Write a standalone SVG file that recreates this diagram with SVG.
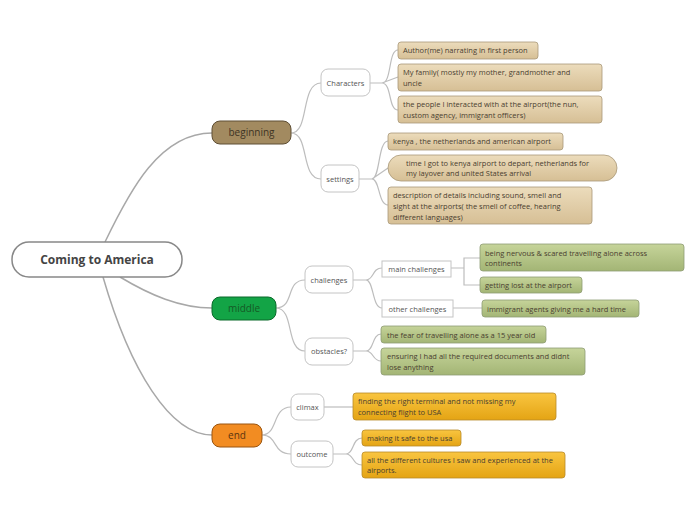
<svg xmlns="http://www.w3.org/2000/svg" width="696" height="520" viewBox="0 0 696 520">
<defs>
<linearGradient id="tan" x1="0" y1="0" x2="0" y2="1"><stop offset="0" stop-color="#ecdcbc"/><stop offset="1" stop-color="#d6bf95"/></linearGradient>
<linearGradient id="grn" x1="0" y1="0" x2="0" y2="1"><stop offset="0" stop-color="#c6d49a"/><stop offset="1" stop-color="#a3b575"/></linearGradient>
<linearGradient id="org" x1="0" y1="0" x2="0" y2="1"><stop offset="0" stop-color="#f9c540"/><stop offset="1" stop-color="#e4a414"/></linearGradient>
</defs>
<style>
text{font-family:"Open Sans","Liberation Sans",sans-serif;font-size:7.5px;fill:#4a4030}
.c path{fill:none;stroke:#bdbdbd;stroke-width:1.2}
.c .m{stroke:#a8a8a8;stroke-width:1.5}
.t{fill:url(#tan);stroke:#a89878;stroke-width:0.8}
.g{fill:url(#grn);stroke:#8e9c74;stroke-width:0.8}
.o{fill:url(#org);stroke:#b88a2a;stroke-width:0.8}
.w{fill:#fff;stroke:#c4c4c4;stroke-width:1}
.s{text-anchor:middle;fill:#555}
</style>
<g class="c">
<path class="m" d="M105,242 C130,190 160,133 212,133"/>
<path class="m" d="M120,277 C150,295 180,308 212,308"/>
<path class="m" d="M103,277 C130,370 170,435 212,435"/>
<path d="M291,133 C310,133 300,83 321,83 M291,133 C310,133 300,179 321,179"/>
<path d="M276,308 C295,308 285,280 305,280 M276,308 C295,308 285,351 305,351"/>
<path d="M262,435 C278,435 272,407 291,407 M262,435 C278,435 272,454 291,454"/>
<path d="M370,83 L382,83 C392,83 388,50 398,50 M382,83 L398,77 M382,83 C392,83 388,110 398,110"/>
<path d="M359,179 L372,179 C380,179 378,141 388,141 M372,179 L388,168 M372,179 C380,179 378,205 388,205"/>
<path d="M353,280 L366,280 C374,280 372,268 382,268 M366,280 C374,280 372,308 382,308"/>
<path d="M451,268 L464,268 L464,258 L480,258 M464,268 L464,285 L480,285 M453,308 L482,308"/>
<path d="M353,351 L366,351 C374,351 372,334 381,334 M366,351 C374,351 372,361 381,361"/>
<path d="M324,407 L353,407"/>
<path d="M333,454 L346,454 C354,454 352,438 362,438 M346,454 C354,454 352,465 362,465"/>
</g>
<g id="root"><rect x="12" y="242" width="170" height="35" rx="17" fill="#fff" stroke="#888" stroke-width="1.5"/><text x="97" y="264" text-anchor="middle" style="font-size:12px;font-weight:bold;fill:#444">Coming to America</text></g>
<g id="beginning"><rect x="212" y="121" width="79" height="23" rx="8" fill="#a28a60" stroke="#5e4e34"/><text x="251.5" y="136" text-anchor="middle" style="font-size:10px;fill:#3e3424">beginning</text></g>
<g id="middle"><rect x="212" y="297" width="64" height="23" rx="8" fill="#13a446" stroke="#0a6a2a"/><text x="244" y="312" text-anchor="middle" style="font-size:10px;fill:#155a25">middle</text></g>
<g id="end"><rect x="212" y="424" width="50" height="23" rx="8" fill="#f28c22" stroke="#9a5510"/><text x="237" y="439" text-anchor="middle" style="font-size:10px;fill:#5a3510">end</text></g>
<g id="characters"><rect class="w" x="321" y="69" width="49" height="27" rx="7"/><text class="s" x="345.5" y="86">Characters</text></g>
<g id="settings"><rect class="w" x="321" y="165" width="38" height="27" rx="7"/><text class="s" x="340" y="182">settings</text></g>
<g id="challenges"><rect class="w" x="305" y="266" width="48" height="27" rx="7"/><text class="s" x="329" y="283">challenges</text></g>
<g id="obstacles"><rect class="w" x="305" y="338" width="48" height="27" rx="7"/><text class="s" x="329" y="354">obstacles?</text></g>
<g id="climax"><rect class="w" x="291" y="394" width="33" height="26" rx="7"/><text class="s" x="307.5" y="410">climax</text></g>
<g id="outcome"><rect class="w" x="291" y="441" width="42" height="26" rx="7"/><text class="s" x="312" y="457">outcome</text></g>
<g id="mainch"><rect class="w" x="382" y="261" width="69" height="16"/><text class="s" x="416.5" y="272">main challenges</text></g>
<g id="otherch"><rect class="w" x="382" y="300" width="71" height="17"/><text class="s" x="417.5" y="312">other challenges</text></g>
<g id="b1"><rect class="t" x="398" y="42" width="140" height="17" rx="3"/><text x="403" y="53">Author(me) narrating in first person</text></g>
<g id="b2"><rect class="t" x="398" y="64" width="204" height="27" rx="3"/><text x="403" y="75">My family( mostly my mother, grandmother and</text><text x="403" y="86">uncle</text></g>
<g id="b3"><rect class="t" x="398" y="96" width="204" height="27" rx="3"/><text x="403" y="107">the people I interacted with at the airport(the nun,</text><text x="403" y="118">custom agency, immigrant officers)</text></g>
<g id="b4"><rect class="t" x="388" y="133" width="175" height="17" rx="3"/><text x="393" y="144">kenya , the netherlands and american airport</text></g>
<g id="b5"><rect class="t" x="388" y="155" width="229" height="26" rx="13"/><text x="406" y="166">time I got to kenya airport to depart, netherlands for</text><text x="406" y="176">my layover and united States arrival</text></g>
<g id="b6"><rect class="t" x="388" y="187" width="204" height="37" rx="3"/><text x="393" y="198">description of details including sound, smell and</text><text x="393" y="209">sight at the airports( the smell of coffee, hearing</text><text x="393" y="220">different languages)</text></g>
<g id="m1"><rect class="g" x="480" y="244" width="204" height="27" rx="3"/><text x="485" y="256">being nervous &amp; scared travelling alone across</text><text x="485" y="266">continents</text></g>
<g id="m2"><rect class="g" x="480" y="277" width="102" height="16" rx="3"/><text x="485" y="288">getting lost at the airport</text></g>
<g id="m3"><rect class="g" x="482" y="300" width="157" height="17" rx="3"/><text x="487" y="312">immigrant agents giving me a hard time</text></g>
<g id="m4"><rect class="g" x="381" y="326" width="165" height="17" rx="3"/><text x="387" y="338">the fear of travelling alone as a 15 year old</text></g>
<g id="m5"><rect class="g" x="381" y="348" width="204" height="27" rx="3"/><text x="387" y="359">ensuring I had all the required documents and didnt</text><text x="387" y="370">lose anything</text></g>
<g id="e1"><rect class="o" x="353" y="393" width="203" height="27" rx="3"/><text x="358" y="404">finding the right terminal and not missing my</text><text x="358" y="415">connecting flight to USA</text></g>
<g id="e2"><rect class="o" x="362" y="430" width="99" height="16" rx="3"/><text x="367" y="441">making it safe to the usa</text></g>
<g id="e3"><rect class="o" x="362" y="452" width="203" height="26" rx="3"/><text x="367" y="463">all the different cultures I saw and experienced at the</text><text x="367" y="473">airports.</text></g>
</svg>
